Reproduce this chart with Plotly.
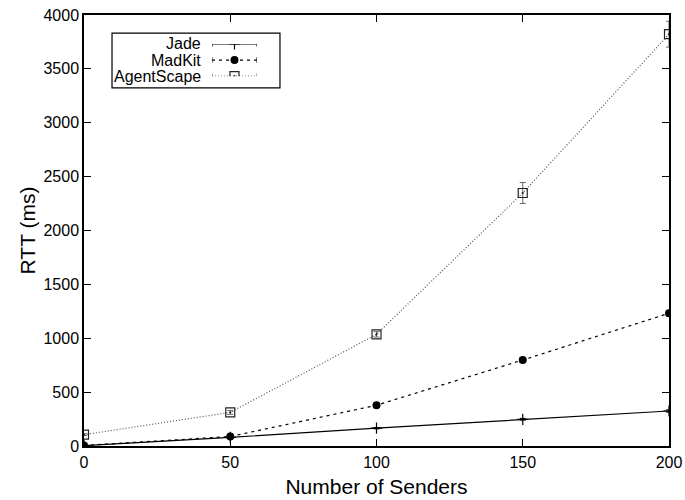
import plotly.graph_objects as go

# ---- data ----
senders = [0, 50, 100, 150, 200]
series_names = ["Jade", "MadKit", "AgentScape"]
jade = [3, 80, 165, 248, 325]
jade_err = [2, 4, 6, 8, 10]
madkit = [5, 88, 378, 798, 1232]
madkit_err = [3, 6, 12, 18, 25]
agentscape = [105, 312, 1036, 2348, 3822]
agentscape_err = [8, 18, 25, 97, 120]
x_ticks = [0, 50, 100, 150, 200]
y_ticks = [0, 500, 1000, 1500, 2000, 2500, 3000, 3500, 4000]

FONT = "Liberation Sans, Arial, Helvetica, sans-serif"

styles = {
    "Jade": dict(line=dict(color="#000", width=1.2, dash="solid"),
                 marker=dict(symbol="cross-thin", size=8, color="#000",
                             line=dict(color="#000", width=1.2))),
    "MadKit": dict(line=dict(color="#000", width=1.2, dash="3px,4px"),
                   marker=dict(symbol="circle", size=8, color="#000")),
    "AgentScape": dict(line=dict(color="#555", width=1.2, dash="1px,2px"),
                       marker=dict(symbol="square-open-dot", size=9, color="#222",
                                   line=dict(color="#222", width=1.2))),
}
err_color = {"Jade": "#000", "MadKit": "#000", "AgentScape": "#666"}

fig = go.Figure()
for name, ys, es in zip(series_names, [jade, madkit, agentscape],
                        [jade_err, madkit_err, agentscape_err]):
    st = styles[name]
    fig.add_trace(go.Scatter(
        x=senders, y=ys, name=name, mode="lines+markers",
        line=st["line"], marker=st["marker"],
        error_y=dict(type="data", array=es, visible=True,
                     color=err_color[name], thickness=1, width=3),
        showlegend=False, xaxis="x", yaxis="y"))

# ---- custom gnuplot-style legend (samples on xaxis2/yaxis2) ----
rows = [2, 1, 0]
for name, r in zip(series_names, rows):
    st = styles[name]
    fig.add_trace(go.Scatter(
        x=[0, 1], y=[r, r], mode="lines", line=st["line"],
        error_y=dict(type="constant", value=0.18, visible=True,
                     color=err_color[name], thickness=1, width=0),
        showlegend=False, hoverinfo="skip", xaxis="x2", yaxis="y2"))
    fig.add_trace(go.Scatter(
        x=[0.5], y=[r], mode="markers", marker=st["marker"],
        showlegend=False, hoverinfo="skip", xaxis="x2", yaxis="y2"))
    fig.add_annotation(x=0.2034, xref="paper", y=r, yref="y2",
                       text=name, showarrow=False, xanchor="right",
                       yanchor="middle", font=dict(size=16, color="#000", family=FONT))

fig.add_shape(type="rect", xref="paper", yref="paper",
              x0=0.0479, x1=0.335, y0=0.831, y1=0.958,
              line=dict(color="#000", width=1.2), fillcolor="rgba(0,0,0,0)")

axis_common = dict(
    showline=True, linecolor="#000", linewidth=1.5, mirror="allticks",
    ticks="inside", ticklen=7, tickwidth=1.2, tickcolor="#000",
    showgrid=False, zeroline=False, automargin=False,
    tickfont=dict(size=16, color="#000", family=FONT),
)

fig.update_layout(
    width=685, height=500,
    margin=dict(l=84, r=16, t=15, b=54),
    paper_bgcolor="white", plot_bgcolor="white",
    font=dict(family=FONT, color="#000"),
    xaxis=dict(range=[0, 200], tickvals=x_ticks, ticklabelstandoff=1,
               title=dict(text="Number of Senders", font=dict(size=21), standoff=9),
               **axis_common),
    yaxis=dict(range=[0, 4000], tickvals=y_ticks,
               title=dict(text="RTT (ms)", font=dict(size=21), standoff=2),
               **axis_common),
    xaxis2=dict(domain=[0.2188, 0.2957], range=[0, 1], visible=False,
                anchor="y2", fixedrange=True),
    yaxis2=dict(domain=[0.858, 0.933], range=[0, 2], visible=False,
                anchor="x2", fixedrange=True),
)

# remove the browser's default 8px body margin so the figure fills the window
fig.write_html("out.html",
               config={"displayModeBar": False},
               post_script="document.body.style.margin='0';"
                           "document.body.style.overflow='hidden';")
